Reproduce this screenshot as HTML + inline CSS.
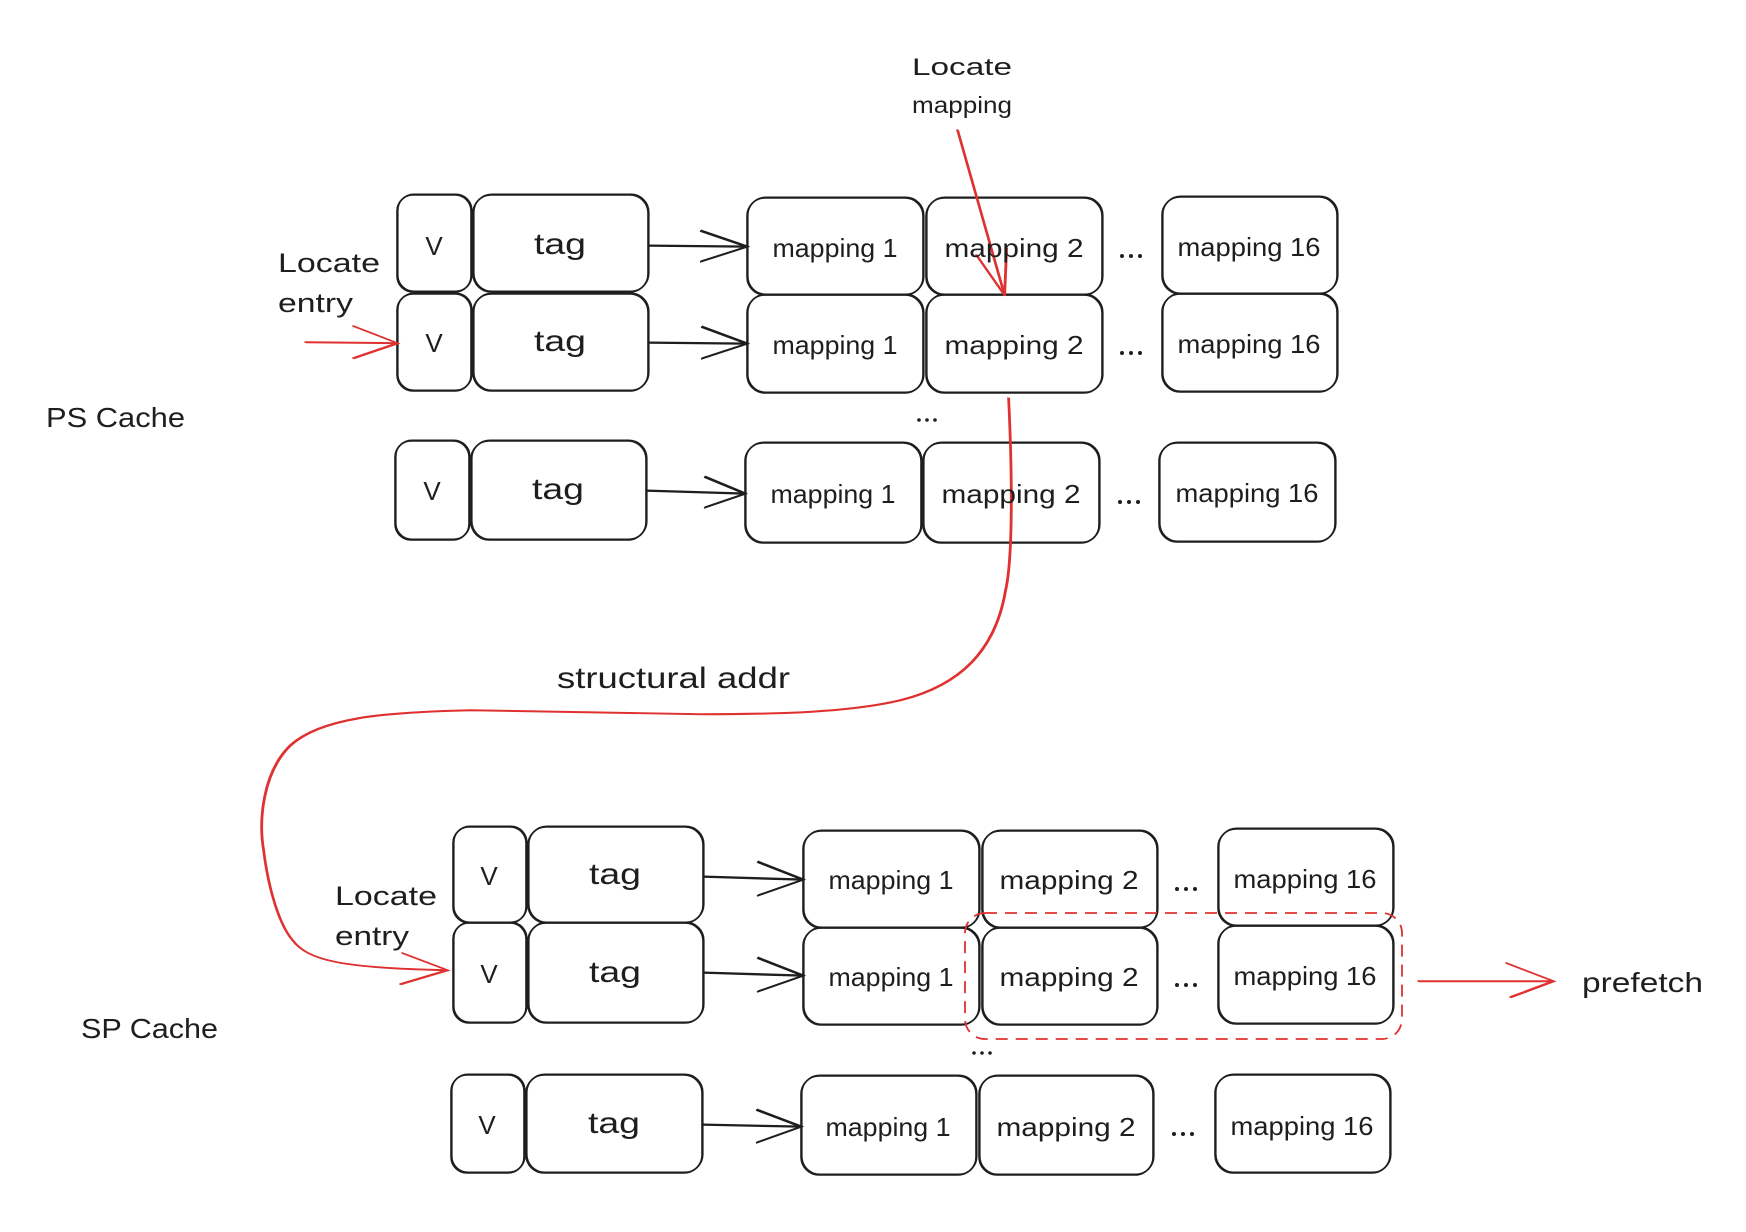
<!DOCTYPE html>
<html>
<head>
<meta charset="utf-8">
<style>
  html, body { margin: 0; padding: 0; background: #ffffff; }
  svg { display: block; }
  text { font-family: "Liberation Sans", "DejaVu Sans", sans-serif; fill: #1e1e1e; }
</style>
</head>
<body>
<svg width="1746" height="1232" viewBox="0 0 1746 1232" xmlns="http://www.w3.org/2000/svg">
  <rect x="0" y="0" width="1746" height="1232" fill="#ffffff"/>

  <defs>
    <g id="boxes" fill="none" stroke="#1e1e1e" stroke-width="1.6">
      <!-- PS row 1 -->
      <rect x="397" y="195" width="74" height="97" rx="16"/>
      <rect x="473" y="195" width="175" height="97" rx="18"/>
      <rect x="747" y="198" width="176" height="97" rx="18"/>
      <rect x="926" y="198" width="176" height="97" rx="18"/>
      <rect x="1162" y="197" width="175" height="97" rx="18"/>
      <!-- PS row 2 -->
      <rect x="397" y="294" width="74" height="97" rx="16"/>
      <rect x="473" y="294" width="175" height="97" rx="18"/>
      <rect x="747" y="295" width="176" height="98" rx="18"/>
      <rect x="926" y="295" width="176" height="98" rx="18"/>
      <rect x="1162" y="294" width="175" height="98" rx="18"/>
      <!-- PS row 3 -->
      <rect x="395" y="441" width="74" height="99" rx="16"/>
      <rect x="471" y="441" width="175" height="99" rx="18"/>
      <rect x="745" y="443" width="176" height="100" rx="18"/>
      <rect x="923" y="443" width="176" height="100" rx="18"/>
      <rect x="1159" y="443" width="176" height="99" rx="18"/>
      <!-- SP row 1 -->
      <rect x="453" y="827" width="73" height="96" rx="16"/>
      <rect x="528" y="827" width="175" height="96" rx="18"/>
      <rect x="803" y="831" width="176" height="97" rx="18"/>
      <rect x="982" y="831" width="175" height="97" rx="18"/>
      <rect x="1218" y="829" width="175" height="97" rx="18"/>
      <!-- SP row 2 -->
      <rect x="453" y="923" width="73" height="100" rx="16"/>
      <rect x="528" y="923" width="175" height="100" rx="18"/>
      <rect x="803" y="928" width="176" height="97" rx="18"/>
      <rect x="982" y="928" width="175" height="97" rx="18"/>
      <rect x="1218" y="926" width="175" height="98" rx="18"/>
      <!-- SP row 3 -->
      <rect x="451" y="1075" width="73" height="98" rx="16"/>
      <rect x="526" y="1075" width="176" height="98" rx="18"/>
      <rect x="801" y="1076" width="175" height="99" rx="18"/>
      <rect x="979" y="1076" width="174" height="99" rx="18"/>
      <rect x="1215" y="1075" width="175" height="98" rx="18"/>

      <!-- black arrows tag -> mapping 1 -->
      <path d="M648,246 L747,247 M700,231 L747,247 L700,262"/>
      <path d="M648,343 L747,344 M701,327 L747,344 L701,359"/>
      <path d="M646,491 L745,494 M704,477 L745,494 L704,508"/>
      <path d="M703,877 L803,880 M757,862 L803,880 L757,896"/>
      <path d="M703,973 L803,976 M757,958 L803,976 L757,992"/>
      <path d="M702,1125 L801,1127 M756,1110 L801,1127 L756,1143"/>
    </g>
    <g id="red" fill="none" stroke="#e03131" stroke-width="1.6" stroke-linecap="round">
      <!-- locate mapping arrow -->
      <path d="M957,130 L1004,295 M976,255 L1004,295 M1006,248 L1004,295"/>
      <!-- PS locate entry arrow -->
      <path d="M305,342 L397,343 M353,326 L397,343 L353,358"/>
      <!-- structural addr curve -->
      <path d="M1008,398 C1012,480 1012,560 1005,590 C995,650 960,685 900,700 C850,712 780,714 700,714 L470,710 C380,712 320,718 290,745 C262,772 258,820 263,850 C268,890 279,925 292,940 C307,960 340,968 447,970"/>
      <path d="M402,953 L447,970 L400,984"/>
      <!-- prefetch arrow -->
      <path d="M1418,981 L1553,981 M1506,963 L1553,981 L1510,997"/>
    </g>
  </defs>

  <use href="#boxes"/>
  <use href="#boxes" transform="translate(0.8,-0.7)"/>
  <use href="#red"/>
  <use href="#red" transform="translate(1.2,0.4)"/>

  <!-- dashed selection -->
  <rect x="965" y="913" width="437" height="126" rx="20" fill="none" stroke="#e03131" stroke-width="1.8" stroke-dasharray="12 8"/>

  <!-- dots -->
  <g fill="#1e1e1e">
    <circle cx="1122" cy="256" r="2"/><circle cx="1131" cy="256" r="2"/><circle cx="1140" cy="256" r="2"/>
    <circle cx="1122" cy="353" r="2"/><circle cx="1131" cy="353" r="2"/><circle cx="1140" cy="353" r="2"/>
    <circle cx="1120" cy="502" r="2"/><circle cx="1129" cy="502" r="2"/><circle cx="1138" cy="502" r="2"/>
    <circle cx="919" cy="420" r="1.8"/><circle cx="927" cy="420" r="1.8"/><circle cx="935" cy="420" r="1.8"/>
    <circle cx="1177" cy="889" r="2"/><circle cx="1186" cy="889" r="2"/><circle cx="1195" cy="889" r="2"/>
    <circle cx="1177" cy="985" r="2"/><circle cx="1186" cy="985" r="2"/><circle cx="1195" cy="985" r="2"/>
    <circle cx="1174" cy="1134" r="2"/><circle cx="1183" cy="1134" r="2"/><circle cx="1192" cy="1134" r="2"/>
    <circle cx="974" cy="1053" r="1.8"/><circle cx="982" cy="1053" r="1.8"/><circle cx="990" cy="1053" r="1.8"/>
  </g>

  <!-- box labels -->
  <g text-anchor="middle">
    <!-- PS row1 -->
    <text x="434" y="255" font-size="26">V</text>
    <text x="560" y="254" font-size="30" textLength="52" lengthAdjust="spacingAndGlyphs">tag</text>
    <text x="835" y="257" font-size="26" textLength="125" lengthAdjust="spacingAndGlyphs">mapping 1</text>
    <text x="1014" y="257" font-size="26" textLength="139" lengthAdjust="spacingAndGlyphs">mapping 2</text>
    <text x="1249" y="256" font-size="26" textLength="143" lengthAdjust="spacingAndGlyphs">mapping 16</text>
    <!-- PS row2 -->
    <text x="434" y="352" font-size="26">V</text>
    <text x="560" y="351" font-size="30" textLength="52" lengthAdjust="spacingAndGlyphs">tag</text>
    <text x="835" y="354" font-size="26" textLength="125" lengthAdjust="spacingAndGlyphs">mapping 1</text>
    <text x="1014" y="354" font-size="26" textLength="139" lengthAdjust="spacingAndGlyphs">mapping 2</text>
    <text x="1249" y="353" font-size="26" textLength="143" lengthAdjust="spacingAndGlyphs">mapping 16</text>
    <!-- PS row3 -->
    <text x="432" y="500" font-size="26">V</text>
    <text x="558" y="499" font-size="30" textLength="52" lengthAdjust="spacingAndGlyphs">tag</text>
    <text x="833" y="503" font-size="26" textLength="125" lengthAdjust="spacingAndGlyphs">mapping 1</text>
    <text x="1011" y="503" font-size="26" textLength="139" lengthAdjust="spacingAndGlyphs">mapping 2</text>
    <text x="1247" y="502" font-size="26" textLength="143" lengthAdjust="spacingAndGlyphs">mapping 16</text>
    <!-- SP row1 -->
    <text x="489" y="885" font-size="26">V</text>
    <text x="615" y="884" font-size="30" textLength="52" lengthAdjust="spacingAndGlyphs">tag</text>
    <text x="891" y="889" font-size="26" textLength="125" lengthAdjust="spacingAndGlyphs">mapping 1</text>
    <text x="1069" y="889" font-size="26" textLength="139" lengthAdjust="spacingAndGlyphs">mapping 2</text>
    <text x="1305" y="888" font-size="26" textLength="143" lengthAdjust="spacingAndGlyphs">mapping 16</text>
    <!-- SP row2 -->
    <text x="489" y="983" font-size="26">V</text>
    <text x="615" y="982" font-size="30" textLength="52" lengthAdjust="spacingAndGlyphs">tag</text>
    <text x="891" y="986" font-size="26" textLength="125" lengthAdjust="spacingAndGlyphs">mapping 1</text>
    <text x="1069" y="986" font-size="26" textLength="139" lengthAdjust="spacingAndGlyphs">mapping 2</text>
    <text x="1305" y="985" font-size="26" textLength="143" lengthAdjust="spacingAndGlyphs">mapping 16</text>
    <!-- SP row3 -->
    <text x="487" y="1134" font-size="26">V</text>
    <text x="614" y="1133" font-size="30" textLength="52" lengthAdjust="spacingAndGlyphs">tag</text>
    <text x="888" y="1136" font-size="26" textLength="125" lengthAdjust="spacingAndGlyphs">mapping 1</text>
    <text x="1066" y="1136" font-size="26" textLength="139" lengthAdjust="spacingAndGlyphs">mapping 2</text>
    <text x="1302" y="1135" font-size="26" textLength="143" lengthAdjust="spacingAndGlyphs">mapping 16</text>
  </g>

  <!-- free labels -->
  <text x="912" y="75" font-size="24" textLength="100" lengthAdjust="spacingAndGlyphs">Locate</text>
  <text x="912" y="113" font-size="23" textLength="100" lengthAdjust="spacingAndGlyphs">mapping</text>

  <text x="278" y="272" font-size="27" textLength="102" lengthAdjust="spacingAndGlyphs">Locate</text>
  <text x="278" y="312" font-size="27" textLength="75" lengthAdjust="spacingAndGlyphs">entry</text>

  <text x="46" y="427" font-size="28" textLength="139" lengthAdjust="spacingAndGlyphs">PS Cache</text>

  <text x="557" y="688" font-size="30" textLength="233" lengthAdjust="spacingAndGlyphs">structural addr</text>

  <text x="335" y="905" font-size="27" textLength="102" lengthAdjust="spacingAndGlyphs">Locate</text>
  <text x="335" y="945" font-size="27" textLength="74" lengthAdjust="spacingAndGlyphs">entry</text>

  <text x="81" y="1038" font-size="28" textLength="137" lengthAdjust="spacingAndGlyphs">SP Cache</text>

  <text x="1582" y="992" font-size="28" textLength="121" lengthAdjust="spacingAndGlyphs">prefetch</text>
</svg>
</body>
</html>
